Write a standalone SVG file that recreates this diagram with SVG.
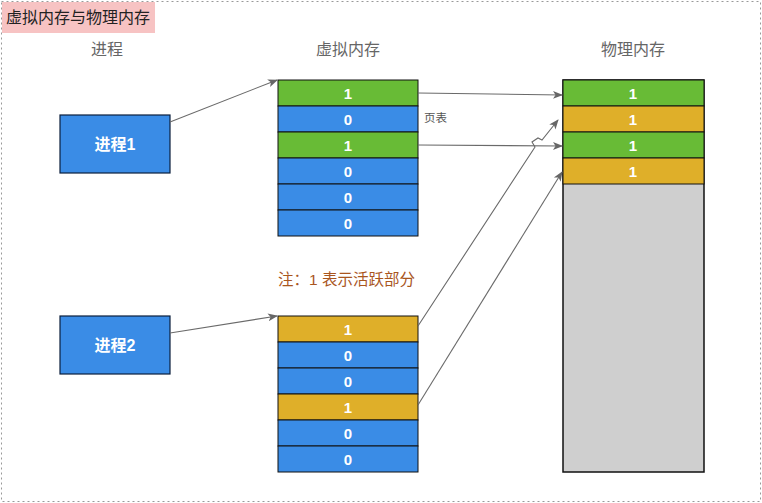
<svg xmlns="http://www.w3.org/2000/svg" width="762" height="503" viewBox="0 0 762 503">
<defs>
<style>
text{font-family:"Liberation Sans","Noto Sans CJK SC",sans-serif;}
.lbl{fill:#666;font-size:16px;text-anchor:middle;}
.cell{stroke:#111;stroke-width:1;}
.ct{fill:#fff;font-size:15px;text-anchor:middle;font-weight:bold;}
.blue{fill:#3A8CE6;}
.green{fill:#68BB36;}
.yellow{fill:#DFAF29;}
.proc{fill:#3A8CE6;stroke:#0A1E3C;stroke-width:1.2;}
.pt{fill:#fff;font-size:16px;text-anchor:middle;font-weight:bold;}
.con{fill:none;stroke:#6a6a6a;stroke-width:1.1;marker-end:url(#ah);}
</style>
<marker id="ah" viewBox="0 0 10 10" refX="9" refY="5" markerWidth="10" markerHeight="10" orient="auto" markerUnits="userSpaceOnUse">
<path d="M0,1 L10,5 L0,9 L2.5,5 Z" fill="#666"/>
</marker>
</defs>
<rect x="1.5" y="1.5" width="759" height="500" fill="#fff" stroke="#999" stroke-dasharray="2,3"/>
<g id="title">
<rect x="2" y="2" width="153" height="31" fill="#F7C3C3"/>
<text x="78" y="23" font-size="16" fill="#222" text-anchor="middle">虚拟内存与物理内存</text>
</g>
<g id="headers">
<text class="lbl" x="107" y="55">进程</text>
<text class="lbl" x="348" y="55">虚拟内存</text>
<text class="lbl" x="633" y="55">物理内存</text>
</g>
<g id="proc1">
<rect class="proc" x="60" y="115" width="110" height="58"/>
<text class="pt" x="115" y="150">进程1</text>
</g>
<g id="proc2">
<rect class="proc" x="60" y="316" width="110" height="58"/>
<text class="pt" x="115" y="351">进程2</text>
</g>
<g id="vm1">
<rect class="cell green" x="278" y="80" width="140" height="26"/><text class="ct" x="348" y="98.5">1</text>
<rect class="cell blue" x="278" y="106" width="140" height="26"/><text class="ct" x="348" y="124.5">0</text>
<rect class="cell green" x="278" y="132" width="140" height="26"/><text class="ct" x="348" y="150.5">1</text>
<rect class="cell blue" x="278" y="158" width="140" height="26"/><text class="ct" x="348" y="176.5">0</text>
<rect class="cell blue" x="278" y="184" width="140" height="26"/><text class="ct" x="348" y="202.5">0</text>
<rect class="cell blue" x="278" y="210" width="140" height="26"/><text class="ct" x="348" y="228.5">0</text>
</g>
<g id="vm2">
<rect class="cell yellow" x="278" y="316" width="140" height="26"/><text class="ct" x="348" y="334.5">1</text>
<rect class="cell blue" x="278" y="342" width="140" height="26"/><text class="ct" x="348" y="360.5">0</text>
<rect class="cell blue" x="278" y="368" width="140" height="26"/><text class="ct" x="348" y="386.5">0</text>
<rect class="cell yellow" x="278" y="394" width="140" height="26"/><text class="ct" x="348" y="412.5">1</text>
<rect class="cell blue" x="278" y="420" width="140" height="26"/><text class="ct" x="348" y="438.5">0</text>
<rect class="cell blue" x="278" y="446" width="140" height="26"/><text class="ct" x="348" y="464.5">0</text>
</g>
<g id="pm">
<rect x="563" y="80" width="141" height="392" fill="#CFCFCF" stroke="#111" stroke-width="1.5"/>
<rect class="cell green" x="563" y="80" width="141" height="26"/><text class="ct" x="633" y="98.5">1</text>
<rect class="cell yellow" x="563" y="106" width="141" height="26"/><text class="ct" x="633" y="124.5">1</text>
<rect class="cell green" x="563" y="132" width="141" height="26"/><text class="ct" x="633" y="150.5">1</text>
<rect class="cell yellow" x="563" y="158" width="141" height="26"/><text class="ct" x="633" y="176.5">1</text>
</g>
<g id="labels">
<text x="424" y="122" font-size="11.5" fill="#555">页表</text>
<text x="278" y="285" font-size="15.5" fill="#A9561E">注：1 表示活跃部分</text>
</g>
<g id="connectors">
<path class="con" d="M170,122 L277,80"/>
<path class="con" d="M170,333 L277,316"/>
<path class="con" d="M418,93 L562,95"/>
<path class="con" d="M418,145 L562,146"/>
<path class="con" d="M418,326 L535,147 L532,142 L538,138 L542,140 L558,120"/>
<path class="con" d="M418,405 L562,172"/>
</g>
</svg>
